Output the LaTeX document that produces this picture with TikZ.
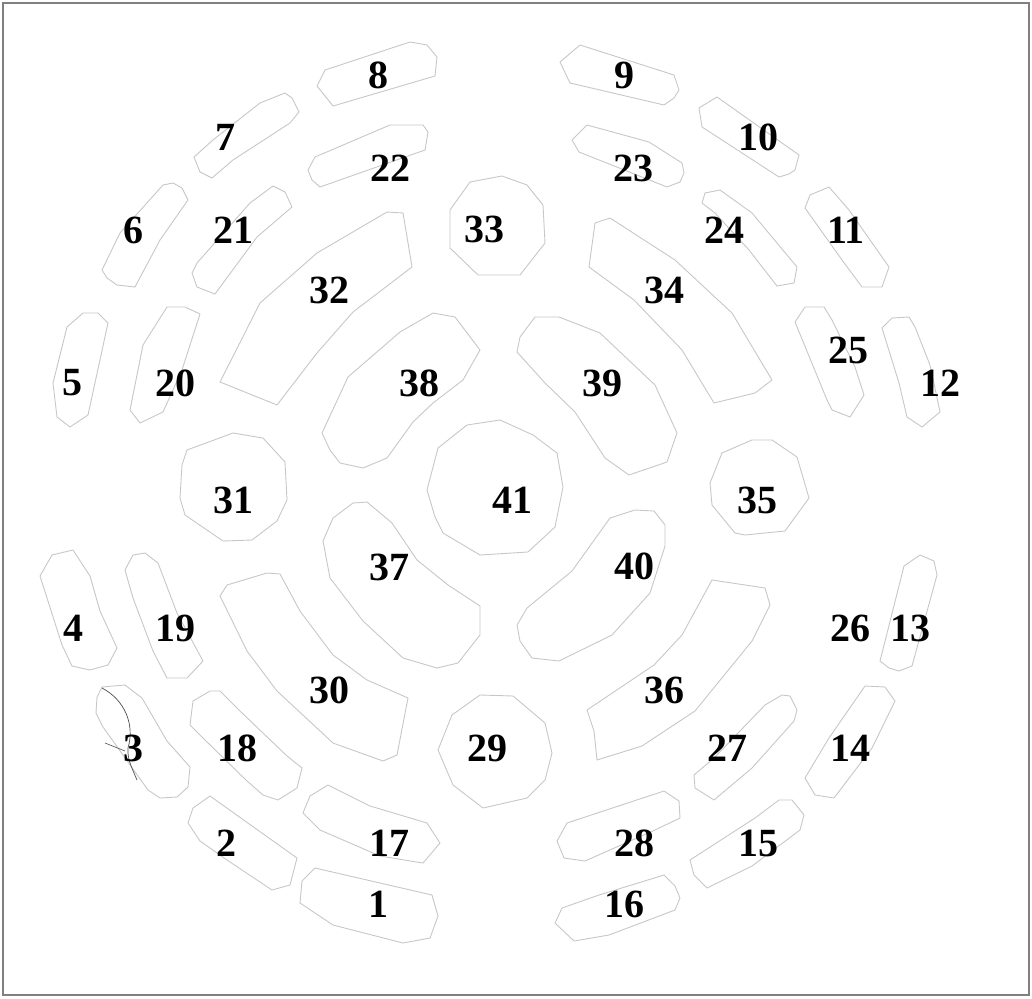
\documentclass[tikz,border=0pt]{standalone}
\usepackage{fontspec}
\setmainfont{Liberation Serif}
\begin{document}
\begin{tikzpicture}[x=1pt,y=-1pt,
  seg/.style={draw=black!22,line width=0.9pt,line join=round},
  lab/.style={font=\fontsize{40}{40}\selectfont\bfseries,inner sep=0pt,anchor=center},
  frame/.style={draw=black!50,line width=2.5pt}]
\useasboundingbox (0,0) rectangle (1032,998);
\draw[frame] (3,3) rectangle (1029,995);
% outer ring
\draw[seg] (300,903)--(302,881)--(315,868)--(432,895)--(438,916)--(430,938)--(403,943)--(333,925)--cycle; % 1
\draw[seg] (188,823)--(193,808)--(210,796)--(297,858)--(290,885)--(272,890)--(227,860)--(200,841)--cycle; % 2
\draw[seg] (96,713)--(97,697)--(102,687)--(125,685)--(142,698)--(167,741)--(190,767)--(188,787)--(177,797)--(160,798)--(148,790)--(103,727)--cycle; % 3
\draw[seg] (40,576)--(52,555)--(73,550)--(90,576)--(100,611)--(117,648)--(108,665)--(90,670)--(72,666)--(62,645)--cycle; % 4
\draw[seg] (53,383)--(67,327)--(83,313)--(98,313)--(108,323)--(88,415)--(70,427)--(57,417)--cycle; % 5
\draw[seg] (102,270)--(120,233)--(163,185)--(173,183)--(182,188)--(188,200)--(160,240)--(135,287)--(117,285)--(107,278)--cycle; % 6
\draw[seg] (194,157)--(213,140)--(260,103)--(285,93)--(292,98)--(299,112)--(290,123)--(233,160)--(212,178)--(200,172)--cycle; % 7
\draw[seg] (325,70)--(410,42)--(427,45)--(437,57)--(435,76)--(333,106)--(317,86)--cycle; % 8
\draw[seg] (560,62)--(580,45)--(674,75)--(679,90)--(674,98)--(664,105)--(570,83)--cycle; % 9
\draw[seg] (699,108)--(717,97)--(799,155)--(795,170)--(789,174)--(779,177)--(702,127)--cycle; % 10
\draw[seg] (805,208)--(810,195)--(829,187)--(849,210)--(889,267)--(882,287)--(862,287)--(842,260)--cycle; % 11
\draw[seg] (882,328)--(892,318)--(909,317)--(915,327)--(930,365)--(940,412)--(922,427)--(907,417)--(899,383)--cycle; % 12
\draw[seg] (880,661)--(904,566)--(920,555)--(934,561)--(937,575)--(912,666)--(899,671)--(889,668)--cycle; % 13
\draw[seg] (805,778)--(829,738)--(865,686)--(885,687)--(895,701)--(872,748)--(834,798)--(815,795)--cycle; % 14
\draw[seg] (690,860)--(755,818)--(779,800)--(792,800)--(804,815)--(800,830)--(752,866)--(707,888)--(694,875)--cycle; % 15
\draw[seg] (555,923)--(562,908)--(599,895)--(664,875)--(675,886)--(680,898)--(675,910)--(609,935)--(574,941)--cycle; % 16
% second ring
\draw[seg] (303,813)--(310,796)--(328,785)--(370,806)--(427,823)--(440,843)--(423,863)--(380,856)--(320,830)--cycle; % 17
\draw[seg] (190,725)--(193,701)--(210,691)--(220,691)--(240,711)--(287,756)--(302,768)--(297,788)--(278,800)--(263,795)--(247,781)--(203,738)--cycle; % 18
\draw[seg] (125,570)--(133,555)--(145,553)--(158,563)--(177,613)--(203,661)--(187,678)--(167,678)--(153,651)--(133,598)--cycle; % 19
\draw[seg] (130,410)--(143,345)--(167,307)--(185,307)--(200,314)--(182,370)--(163,412)--(140,423)--cycle; % 20
\draw[seg] (192,273)--(197,263)--(250,203)--(273,186)--(285,192)--(292,207)--(257,237)--(215,294)--(197,287)--cycle; % 21
\draw[seg] (308,170)--(315,157)--(390,125)--(423,125)--(428,132)--(425,150)--(320,187)--(312,180)--cycle; % 22
\draw[seg] (572,140)--(587,125)--(649,142)--(682,163)--(684,173)--(680,182)--(667,187)--(579,152)--cycle; % 23
\draw[seg] (702,203)--(705,193)--(720,190)--(752,213)--(797,267)--(794,283)--(777,286)--(749,250)--(715,213)--cycle; % 24
\draw[seg] (795,322)--(805,307)--(824,307)--(832,320)--(855,367)--(864,395)--(850,417)--(832,410)--(827,400)--cycle; % 25
\draw[seg] (694,775)--(714,758)--(765,705)--(782,695)--(790,696)--(797,710)--(794,721)--(752,768)--(714,800)--(695,788)--cycle; % 27
\draw[seg] (557,841)--(567,823)--(664,791)--(679,801)--(680,818)--(655,830)--(585,861)--(564,858)--cycle; % 28
% third ring
\draw[seg] (438,750)--(452,715)--(480,695)--(513,696)--(545,723)--(552,753)--(545,780)--(527,798)--(483,808)--(453,785)--cycle; % 29
\draw[seg] (220,596)--(227,585)--(267,573)--(280,574)--(300,611)--(333,655)--(367,680)--(408,698)--(397,755)--(383,761)--(333,743)--(277,691)--(247,651)--cycle; % 30
\draw[seg] (182,465)--(187,450)--(233,433)--(263,438)--(285,462)--(287,500)--(277,521)--(252,540)--(223,541)--(185,515)--(180,498)--cycle; % 31
\draw[seg] (220,382)--(260,303)--(317,253)--(387,212)--(403,213)--(412,267)--(353,312)--(317,353)--(277,405)--cycle; % 32
\draw[seg] (450,210)--(470,182)--(502,176)--(527,185)--(543,205)--(545,243)--(520,275)--(478,275)--(450,248)--cycle; % 33
\draw[seg] (589,267)--(595,223)--(610,218)--(675,260)--(732,313)--(772,380)--(755,393)--(714,403)--(682,350)--(634,300)--cycle; % 34
\draw[seg] (710,483)--(722,453)--(752,440)--(772,440)--(797,457)--(809,498)--(785,531)--(745,535)--(735,533)--(712,505)--cycle; % 35
\draw[seg] (587,710)--(654,665)--(682,635)--(712,580)--(765,588)--(770,605)--(752,641)--(695,711)--(642,746)--(597,760)--(594,731)--cycle; % 36
% inner ring
\draw[seg] (323,541)--(333,518)--(353,503)--(367,502)--(392,523)--(417,560)--(448,585)--(480,606)--(480,635)--(458,663)--(437,668)--(403,658)--(363,621)--(330,578)--cycle; % 37
\draw[seg] (322,433)--(348,377)--(400,332)--(433,313)--(455,317)--(480,350)--(463,380)--(433,403)--(413,422)--(387,458)--(363,468)--(340,463)--(330,450)--cycle; % 38
\draw[seg] (517,352)--(520,337)--(535,317)--(559,317)--(600,333)--(655,385)--(677,433)--(667,462)--(629,475)--(605,458)--(575,412)--(545,383)--cycle; % 39
\draw[seg] (517,625)--(527,608)--(572,571)--(610,518)--(635,510)--(654,511)--(665,525)--(665,546)--(650,593)--(612,635)--(559,661)--(532,658)--(520,641)--cycle; % 40
\draw[seg] (427,490)--(438,448)--(467,425)--(500,420)--(533,435)--(557,453)--(563,487)--(555,527)--(528,552)--(480,555)--(443,533)--(435,517)--cycle; % 41
% scribble near 3
\draw[black!70,line width=0.7pt] (102,688) .. controls (125,700) and (135,725) .. (128,748) .. controls (127,760) and (133,770) .. (137,780);
\draw[black!70,line width=0.6pt] (105,743) -- (125,751);
% labels
\node[lab] (l1) at (378,904) {1};
\node[lab] (l2) at (226,843) {2};
\node[lab] (l3) at (133,748) {3};
\node[lab] (l4) at (73,628) {4};
\node[lab] (l5) at (72,383) {5};
\node[lab] (l6) at (133,230) {6};
\node[lab] (l7) at (225,137) {7};
\node[lab] (l8) at (378,75) {8};
\node[lab] (l9) at (624,75) {9};
\node[lab] (l10) at (758,137) {10};
\node[lab] (l11) at (846,230) {11};
\node[lab] (l12) at (940,383) {12};
\node[lab] (l13) at (910,628) {13};
\node[lab] (l14) at (850,748) {14};
\node[lab] (l15) at (758,843) {15};
\node[lab] (l16) at (624,904) {16};
\node[lab] (l17) at (389,843) {17};
\node[lab] (l18) at (237,748) {18};
\node[lab] (l19) at (175,628) {19};
\node[lab] (l20) at (175,383) {20};
\node[lab] (l21) at (233,230) {21};
\node[lab] (l22) at (390,168) {22};
\node[lab] (l23) at (633,168) {23};
\node[lab] (l24) at (724,230) {24};
\node[lab] (l25) at (848,350) {25};
\node[lab] (l26) at (850,628) {26};
\node[lab] (l27) at (727,748) {27};
\node[lab] (l28) at (634,843) {28};
\node[lab] (l29) at (487,748) {29};
\node[lab] (l30) at (329,690) {30};
\node[lab] (l31) at (233,500) {31};
\node[lab] (l32) at (329,290) {32};
\node[lab] (l33) at (484,229) {33};
\node[lab] (l34) at (664,290) {34};
\node[lab] (l35) at (757,500) {35};
\node[lab] (l36) at (664,690) {36};
\node[lab] (l37) at (389,567) {37};
\node[lab] (l38) at (419,383) {38};
\node[lab] (l39) at (602,383) {39};
\node[lab] (l40) at (634,566) {40};
\node[lab] (l41) at (512,500) {41};
\end{tikzpicture}
\end{document}
